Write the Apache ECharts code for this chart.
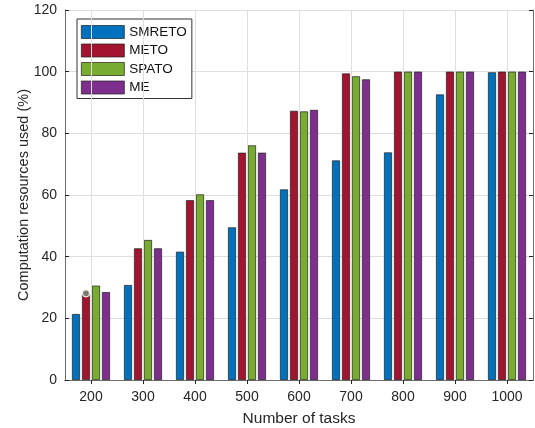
<!DOCTYPE html>
<html>
<head>
<meta charset="utf-8">
<script src="https://cdn.jsdelivr.net/npm/echarts@6/dist/echarts.min.js"></script>
<style>
  html, body { margin: 0; padding: 0; background: #fff; }
  #chart { width: 535px; height: 428px; }
</style>
</head>
<body>
<div id="chart"></div>
<script>
// Task counts on the x axis
const categories = ['200', '300', '400', '500', '600', '700', '800', '900', '1000'];
// Share of computation resources used (%) per scheme
const smreto = [21.4, 30.8, 41.6, 49.5, 61.8, 71.2, 73.8, 92.6, 99.8];
const meto   = [28.1, 42.7, 58.3, 73.7, 87.3, 99.4, 100, 100, 100];
const spato  = [30.6, 45.4, 60.2, 76.1, 87.1, 98.5, 100, 100, 100];
const me     = [28.5, 42.7, 58.3, 73.7, 87.6, 97.5, 100, 100, 100];
const yTicks = [0, 20, 40, 60, 80, 100, 120];

const font = '"Liberation Sans", Arial, Helvetica, sans-serif';
const axisGray = '#6e6e6e';
const gridGray = '#dedede';

const chart = echarts.init(document.getElementById('chart'));

function barSeries(name, data, color, extra) {
  return Object.assign({
    name: name,
    type: 'bar',
    data: data,
    barWidth: 8,
    barGap: '25%',
    z: 3,
    itemStyle: { color: color, borderColor: '#202020', borderWidth: 0.7 }
  }, extra || {});
}

chart.setOption({
  animation: false,
  textStyle: { fontFamily: font },
  grid: { left: 65, right: 2, top: 10, bottom: 48, containLabel: false, outerBoundsMode: 'none' },
  legend: {
    orient: 'vertical',
    left: 77,
    top: 19,
    padding: [6, 5, 4, 4],
    itemWidth: 43,
    itemHeight: 13,
    itemGap: 4.5,
    icon: 'rect',
    itemStyle: { borderColor: '#202020', borderWidth: 0.7 },
    backgroundColor: '#fff',
    borderColor: '#333',
    borderWidth: 1,
    borderRadius: 0,
    textStyle: { fontFamily: font, fontSize: 13.5, color: '#111' },
    data: ['SMRETO', 'METO', 'SPATO', 'ME']
  },
  xAxis: [
    {
      type: 'category',
      data: categories,
      position: 'bottom',
      name: 'Number of tasks',
      nameLocation: 'middle',
      nameGap: 31,
      nameMoveOverlap: false,
      nameTextStyle: { fontFamily: font, fontSize: 15.5, color: '#262626' },
      axisLine: { show: true, lineStyle: { color: axisGray, width: 1 } },
      axisTick: { show: true, inside: true, alignWithLabel: true, length: 4, lineStyle: { color: '#222' } },
      axisLabel: { fontFamily: font, fontSize: 14, color: '#262626', margin: 10 },
      splitLine: { show: false }
    },
    {
      type: 'category',
      data: categories,
      position: 'top',
      axisLine: { show: true, lineStyle: { color: axisGray, width: 1 } },
      axisTick: { show: true, inside: true, alignWithLabel: true, length: 4, lineStyle: { color: '#222' } },
      axisLabel: { show: false },
      splitLine: { show: false }
    }
  ],
  yAxis: [
    {
      type: 'value',
      min: yTicks[0],
      max: yTicks[yTicks.length - 1],
      interval: yTicks[1] - yTicks[0],
      name: 'Computation resources used (%)',
      nameLocation: 'middle',
      nameGap: 34,
      nameMoveOverlap: false,
      nameTextStyle: { fontFamily: font, fontSize: 14.5, color: '#262626' },
      axisLine: { show: true, lineStyle: { color: axisGray, width: 1 } },
      axisTick: { show: true, inside: true, length: 4, lineStyle: { color: '#222' } },
      axisLabel: { fontFamily: font, fontSize: 14, color: '#262626', margin: 8 },
      splitLine: { show: true, lineStyle: { color: gridGray, width: 1 } }
    },
    {
      type: 'value',
      position: 'right',
      min: yTicks[0],
      max: yTicks[yTicks.length - 1],
      interval: yTicks[1] - yTicks[0],
      axisLine: { show: true, lineStyle: { color: axisGray, width: 1 } },
      axisTick: { show: true, inside: true, length: 4, lineStyle: { color: '#222' } },
      axisLabel: { show: false },
      splitLine: { show: false }
    }
  ],
  series: [
    // vertical grid lines at each task count, kept behind the bars
    {
      type: 'line',
      data: [],
      silent: true,
      z: 1,
      markLine: {
        silent: true,
        symbol: 'none',
        label: { show: false },
        lineStyle: { color: gridGray, type: 'solid', width: 1 },
        data: categories.map(c => ({ xAxis: c }))
      }
    },
    barSeries('SMRETO', smreto, '#0072BD'),
    barSeries('METO', meto, '#A2142F', {
      markPoint: {
        silent: true,
        symbol: 'circle',
        symbolSize: 7,
        label: { show: false },
        itemStyle: { color: '#7a7a7a', borderColor: '#f3efdc', borderWidth: 1.2 },
        data: [{ coord: [categories[0], meto[0]] }]
      }
    }),
    barSeries('SPATO', spato, '#77AC30'),
    barSeries('ME', me, '#7E2F8E')
  ]
});
</script>
</body>
</html>
